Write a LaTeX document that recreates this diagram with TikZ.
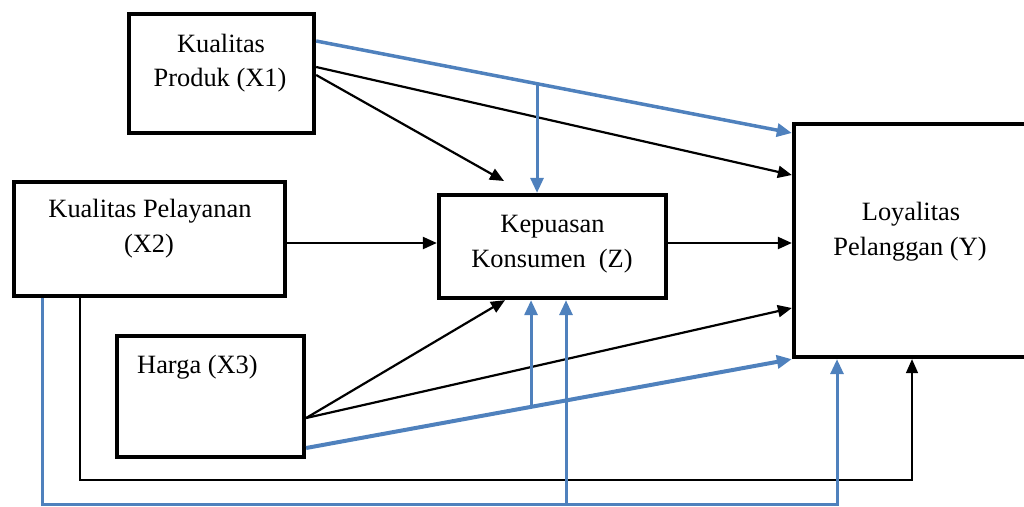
\documentclass[tikz,border=0pt]{standalone}
\usepackage{fontspec}
\setmainfont{Liberation Serif}
\usetikzlibrary{arrows.meta,calc}
\definecolor{lblue}{RGB}{79,129,189}
\begin{document}
\begin{tikzpicture}[x=1pt,y=-1pt,
  box/.style={draw,line width=4.3pt,inner sep=0pt,outer sep=2.15pt},
  lbl/.style={font=\fontsize{26.4}{35}\selectfont,inner sep=0pt,anchor=base},
  blk/.style={draw=black,line width=2.2pt,-{Triangle[length=14pt,width=12pt]}},
  blu/.style={draw=lblue,line width=3.5pt,-{Triangle[length=15pt,width=13pt]}}
]
\useasboundingbox (0,0) rectangle (1024,506);
\clip (0,0) rectangle (1024,506);
% boxes
\node[box,minimum width=185pt,minimum height=119pt] (X1) at (221.5,73.5) {};
\node[box,minimum width=271pt,minimum height=114pt] (X2) at (149.5,239) {};
\node[box,minimum width=227pt,minimum height=103pt] (Z) at (552.5,246.5) {};
\node[box,minimum width=250pt,minimum height=233pt] (Y) at (919,240.5) {};
\node[box,minimum width=187pt,minimum height=121pt] (X3) at (210.5,396.5) {};
% labels
\node[lbl] (t1a) at (221,52) {Kualitas};
\node[lbl] (t1b) at (220,86) {Produk (X1)};
\node[lbl] (t2a) at (150,217) {Kualitas Pelayanan};
\node[lbl] (t2b) at (149,252) {(X2)};
\node[lbl] (tza) at (552.5,232) {Kepuasan};
\node[lbl] (tzb) at (552,267) {Konsumen\ \ (Z)};
\node[lbl] (tya) at (911,220) {Loyalitas};
\node[lbl] (tyb) at (910,255) {Pelanggan (Y)};
\node[lbl,anchor=base west] (t3) at (137,373) {Harga (X3)};
% black connectors
\coordinate (z1) at (504,181);
\draw[blk] (X1.east |- 0,75) -- (z1);
\draw[blk] (X1.east |- 0,67) -- (Y.west |- 0,175);
\draw[blk] (X2.east |- 0,243) -- (Z.west |- 0,243);
\draw[blk] (Z.east |- 0,243) -- (Y.west |- 0,243);
\draw[blk] (X3.east |- 0,418) -- (Z.south -| 505,0);
\draw[blk] (X3.east |- 0,418) -- (Y.west |- 0,308);
\draw[blk,line width=1.6pt] (X2.south -| 80,0) -- (80,480) -- (912,480) -- (Y.south -| 912,0);
% blue connectors
\draw[blu] (X1.east |- 0,41) -- coordinate[pos=0.4643] (j1) (Y.west |- 0,133);
\draw[blu,line width=3pt] (j1) -- (j1 |- Z.north);
\draw[blu,line width=4pt] (X3.east |- 0,448) -- coordinate[pos=0.463] (j2) (Y.south west);
\draw[blu,line width=3pt] (j2) -- (j2 |- Z.south);
\draw[blu,line width=3pt] (X2.south -| 42,0) -- (42,504.3) -- coordinate (j3) (837,504.3) -- (Y.south -| 837,0);
\coordinate (j4) at (566,504.3);
\draw[blu,line width=3pt] (j4) -- (Z.south -| 566,0);
\end{tikzpicture}
\end{document}
